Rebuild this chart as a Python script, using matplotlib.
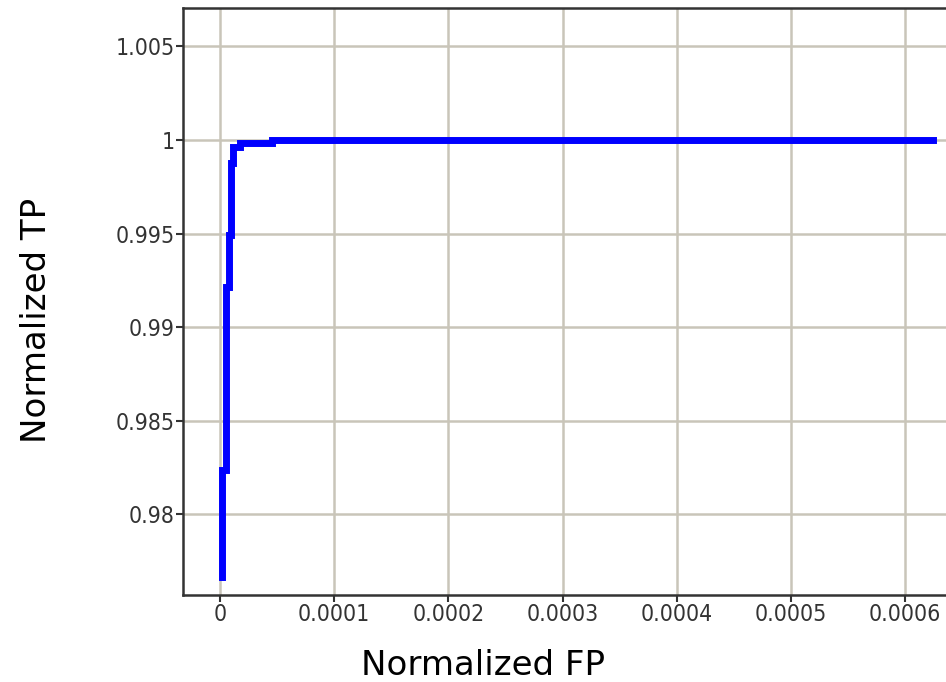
import numpy as np
import matplotlib
matplotlib.use('Agg')
import matplotlib.pyplot as plt
from matplotlib import font_manager

# ROC-style curve (normalized FP vs normalized TP)
fp = [1.75e-6, 1.75e-6, 5.3e-6, 5.3e-6, 7.9e-6, 7.9e-6, 9.6e-6, 9.6e-6,
      1.18e-5, 1.18e-5, 1.75e-5, 1.75e-5, 4.55e-5, 4.55e-5, 6.24e-4]
tp = [0.97666, 0.98237, 0.98237, 0.99215, 0.99215, 0.99493, 0.99493, 0.99877,
      0.99877, 0.99963, 0.99963, 0.99984, 0.99984, 1.0, 1.0]

xticks = [0, 0.0001, 0.0002, 0.0003, 0.0004, 0.0005, 0.0006]
xticklabels = ['0', '0.0001', '0.0002', '0.0003', '0.0004', '0.0005', '0.0006']
yticks = [0.98, 0.985, 0.99, 0.995, 1.0, 1.005]
yticklabels = ['0.98', '0.985', '0.99', '0.995', '1', '1.005']

tickfont = font_manager.FontProperties(family='DejaVu Sans', stretch='condensed', size=16.5)

fig = plt.figure(figsize=(9.46, 6.82), dpi=100)
ax = fig.add_axes([183/946, 1-595/682, 1-183/946, (595-8)/682])

ax.plot(fp, tp, color='#0000ff', lw=5, solid_joinstyle='miter', zorder=3)

ax.set_xlim(-3.24e-5, 6.357e-4)
ax.set_ylim(0.9757, 1.00705)
ax.set_xticks(xticks)
ax.set_xticklabels(xticklabels, fontproperties=tickfont)
ax.set_yticks(yticks)
ax.set_yticklabels(yticklabels, fontproperties=tickfont)
ax.grid(True, color='#c9c5b9', lw=1.8)
ax.set_axisbelow(True)

for s in ['left', 'bottom', 'top']:
    ax.spines[s].set_color('#333333')
    ax.spines[s].set_linewidth(1.8)
ax.spines['right'].set_visible(False)
ax.tick_params(axis='both', direction='out', length=5, width=1.5, color='#333333',
               labelcolor='#333333', pad=1)

ax.set_xlabel('Normalized FP', fontsize=24.5)
ax.set_ylabel('Normalized TP', fontsize=24.5)
ax.xaxis.set_label_coords(0.393, -0.092)
ax.yaxis.set_label_coords(-0.170, 0.4685)

fig.savefig('out.png', dpi=100)
